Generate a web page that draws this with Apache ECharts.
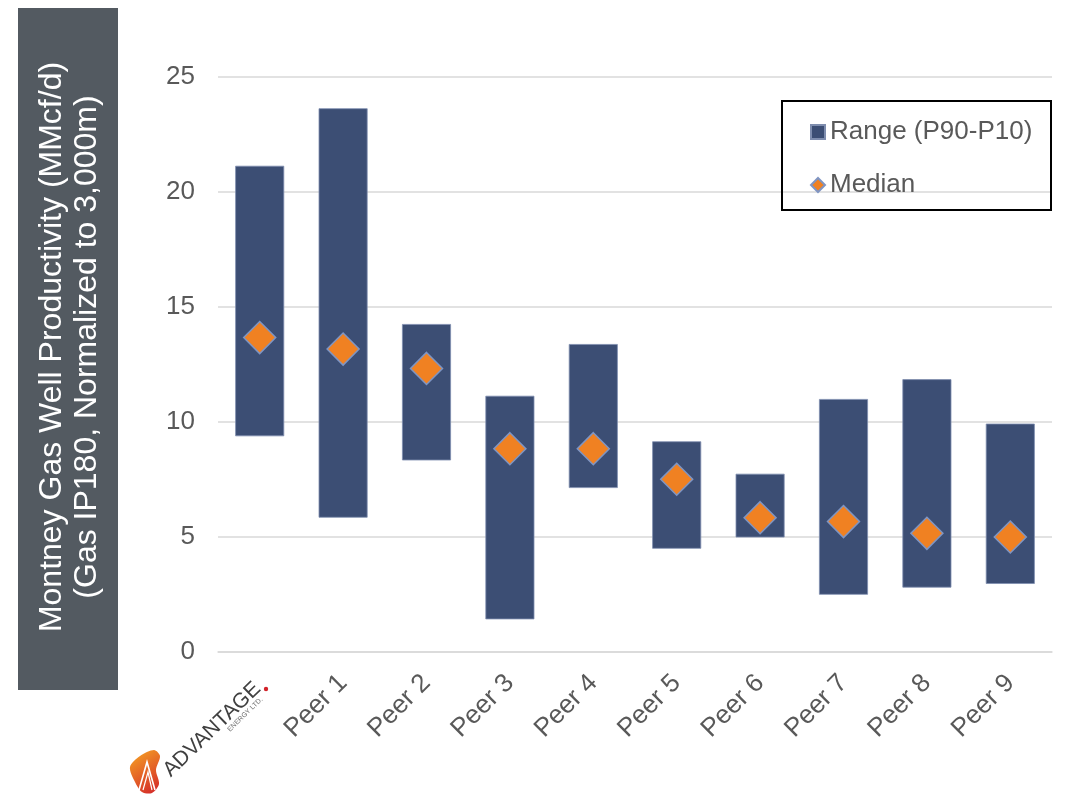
<!DOCTYPE html>
<html>
<head>
<meta charset="utf-8">
<script src="https://cdn.jsdelivr.net/npm/echarts@6/dist/echarts.min.js"></script>
<style>
  html, body { margin: 0; padding: 0; background: #fff; }
  #main { width: 1071px; height: 795px; }
</style>
</head>
<body>
<div id="main"></div>
<script>
// categories (first one is the Advantage logo, drawn separately)
var categories = ['Advantage', 'Peer 1', 'Peer 2', 'Peer 3', 'Peer 4', 'Peer 5', 'Peer 6', 'Peer 7', 'Peer 8', 'Peer 9'];
// P90 (low) and P10 (high) ends of each range bar, MMcf/d
var p90Low = [9.38, 5.84, 8.33, 1.42, 7.13, 4.49, 4.98, 2.49, 2.80, 2.96];
var p10High = [21.14, 23.64, 14.26, 11.14, 13.39, 9.16, 7.75, 11.0, 11.86, 9.93];
var medians = [13.67, 13.17, 12.33, 8.84, 8.84, 7.51, 5.84, 5.67, 5.16, 5.0];

var rangeSpan = [];
for (var i = 0; i < p90Low.length; i++) {
    rangeSpan.push(+(p10High[i] - p90Low[i]).toFixed(2));
}

var myChart = echarts.init(document.getElementById('main'));

var gray = '#595959';
var font = 'Liberation Sans, Arial, sans-serif';

option = {
    backgroundColor: '#ffffff',
    animation: false,
    grid: {
        left: 218,
        right: 19,
        top: 77,
        bottom: 143
    },
    legend: {
        orient: 'vertical',
        left: 805,
        top: 114,
        itemWidth: 14,
        itemHeight: 14,
        itemGap: 27,
        itemTextGap: 5,
        textStyle: {
            fontFamily: font,
            fontSize: 26,
            color: gray
        },
        data: [
            { name: 'Range (P90-P10)', icon: 'rect' },
            { name: 'Median', icon: 'diamond' }
        ]
    },
    xAxis: {
        type: 'category',
        data: categories,
        axisLine: { lineStyle: { color: '#D9D9D9', width: 1.5 } },
        axisTick: { show: false },
        axisLabel: {
            interval: 0,
            rotate: 45,
            margin: 27,
            fontFamily: font,
            fontSize: 26,
            color: gray,
            formatter: function (v, idx) {
                return idx === 0 ? '' : v;
            }
        }
    },
    yAxis: {
        type: 'value',
        min: 0,
        max: 25,
        interval: 5,
        axisLine: { show: false },
        axisTick: { show: false },
        axisLabel: {
            margin: 23,
            fontFamily: font,
            fontSize: 26,
            color: gray
        },
        splitLine: {
            lineStyle: { color: '#D9D9D9', width: 1.5 }
        }
    },
    series: [{
        name: 'base',
        type: 'bar',
        stack: 'range',
        barWidth: 49,
        silent: true,
        itemStyle: { color: 'rgba(0,0,0,0)' },
        data: p90Low
    }, {
        name: 'Range (P90-P10)',
        type: 'bar',
        stack: 'range',
        barWidth: 49,
        itemStyle: {
            color: '#3C4E74',
            borderColor: '#7E8DAE',
            borderWidth: 0.8
        },
        data: rangeSpan
    }, {
        name: 'Median',
        type: 'scatter',
        symbol: 'diamond',
        symbolSize: 32,
        itemStyle: {
            color: '#F08122',
            borderColor: '#7F95C3',
            borderWidth: 1.5,
            opacity: 1
        },
        z: 5,
        data: medians
    }],
    graphic: [
        // y axis title panel
        {
            type: 'rect',
            shape: { x: 18, y: 8, width: 100, height: 682 },
            style: { fill: '#535A61' },
            z: 1
        },
        {
            type: 'text',
            x: 70,
            y: 347,
            rotation: Math.PI / 2,
            z: 2,
            style: {
                text: 'Montney Gas Well Productivity (MMcf/d)\n(Gas IP180, Normalized to 3,000m)',
                fill: '#ffffff',
                fontFamily: font,
                fontSize: 32,
                lineHeight: 35,
                align: 'center',
                verticalAlign: 'middle'
            }
        },
        // legend frame
        {
            type: 'rect',
            shape: { x: 782, y: 101, width: 269, height: 109 },
            style: { fill: 'none', stroke: '#000000', lineWidth: 2 },
            z: 1
        },
        // Advantage logo in place of the first category label
        {
            type: 'text',
            x: 174,
            y: 781,
            rotation: Math.PI * 44 / 180,
            style: {
                text: 'ADVANTAGE',
                fill: '#404040',
                fontFamily: font,
                fontSize: 21,
                align: 'left',
                verticalAlign: 'bottom'
            }
        },
        {
            type: 'text',
            x: 231,
            y: 733,
            rotation: Math.PI * 44 / 180,
            style: {
                text: 'ENERGY LTD.',
                fill: '#707070',
                fontFamily: font,
                fontSize: 7,
                align: 'left',
                verticalAlign: 'bottom'
            }
        },
        {
            type: 'circle',
            shape: { cx: 266, cy: 689, r: 2.2 },
            style: { fill: '#D2232A' }
        },
        {
            type: 'polygon',
            shape: {
                points: [[130, 767], [140, 756], [154, 750], [160, 756], [156, 770], [159, 784], [152, 793], [142, 792], [135, 782]],
                smooth: 0.3
            },
            style: {
                fill: new echarts.graphic.LinearGradient(0, 0, 1, 1, [
                    { offset: 0, color: '#F7A823' },
                    { offset: 1, color: '#D2232A' }
                ])
            }
        },
        {
            type: 'polyline',
            shape: { points: [[139, 790], [147, 762], [155, 790]] },
            style: { stroke: '#ffffff', lineWidth: 1.6, fill: 'none' }
        },
        {
            type: 'polyline',
            shape: { points: [[143, 790], [148, 772], [152, 790]] },
            style: { stroke: '#ffffff', lineWidth: 1.2, fill: 'none' }
        }
    ]
};
myChart.setOption(option);
</script>
</body>
</html>
